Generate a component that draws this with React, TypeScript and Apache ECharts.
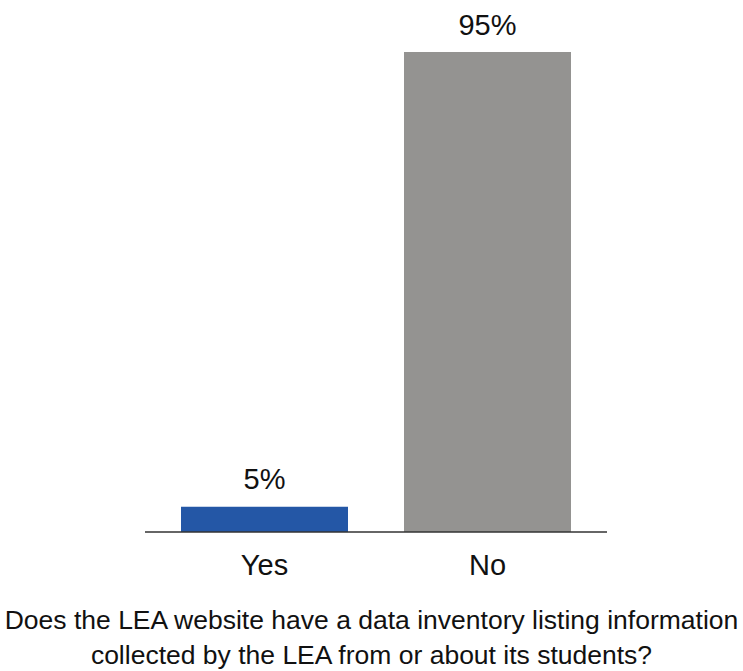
import React, { useEffect, useRef } from "react";
import * as echarts from "echarts";

const categories = ["Yes", "No"];
const values = [5, 95];
const barColors = ["#2457A6", "#949391"];
const questionText =
  "Does the LEA website have a data inventory listing information\ncollected by the LEA from or about its students?";

export default function App() {
  const ref = useRef<HTMLDivElement>(null);
  useEffect(() => {
    if (!ref.current) return;
    const chart = echarts.init(ref.current, null, { renderer: "svg" });
    const font = "'Liberation Sans', Arial, sans-serif";
    chart.setOption({
      animation: false,
      backgroundColor: "#ffffff",
      title: {
        text: questionText,
        left: "center",
        top: 597,
        textStyle: {
          fontFamily: font,
          fontSize: 26.5,
          fontWeight: "normal",
          color: "#111",
          lineHeight: 35,
          align: "center",
        },
      },
      grid: { left: 153, width: 446, top: 52, bottom: 671 - 532, containLabel: false },
      xAxis: {
        type: "category",
        data: categories,
        axisLine: { show: false },
        axisTick: { show: false },
        axisLabel: {
          margin: 18,
          fontFamily: font,
          fontSize: 29,
          color: "#111",
        },
      },
      yAxis: {
        type: "value",
        min: 0,
        max: 95,
        show: false,
        splitLine: { show: false },
      },
      graphic: [
        {
          type: "line",
          shape: { x1: 145, y1: 532, x2: 607, y2: 532 },
          style: { stroke: "#333", lineWidth: 1.5 },
          z: 10,
        },
      ],
      series: [
        {
          type: "bar",
          barWidth: 167,
          data: values.map((v, i) => ({ value: v, itemStyle: { color: barColors[i] } })),
          label: {
            show: true,
            position: "top",
            distance: 13,
            formatter: "{c}%",
            fontFamily: font,
            fontSize: 29,
            color: "#111",
          },
        },
      ],
    });
    return () => chart.dispose();
  }, []);
  return (
    <div
      ref={ref}
      style={{ position: "absolute", left: 0, top: 0, width: 743, height: 671 }}
    />
  );
}
